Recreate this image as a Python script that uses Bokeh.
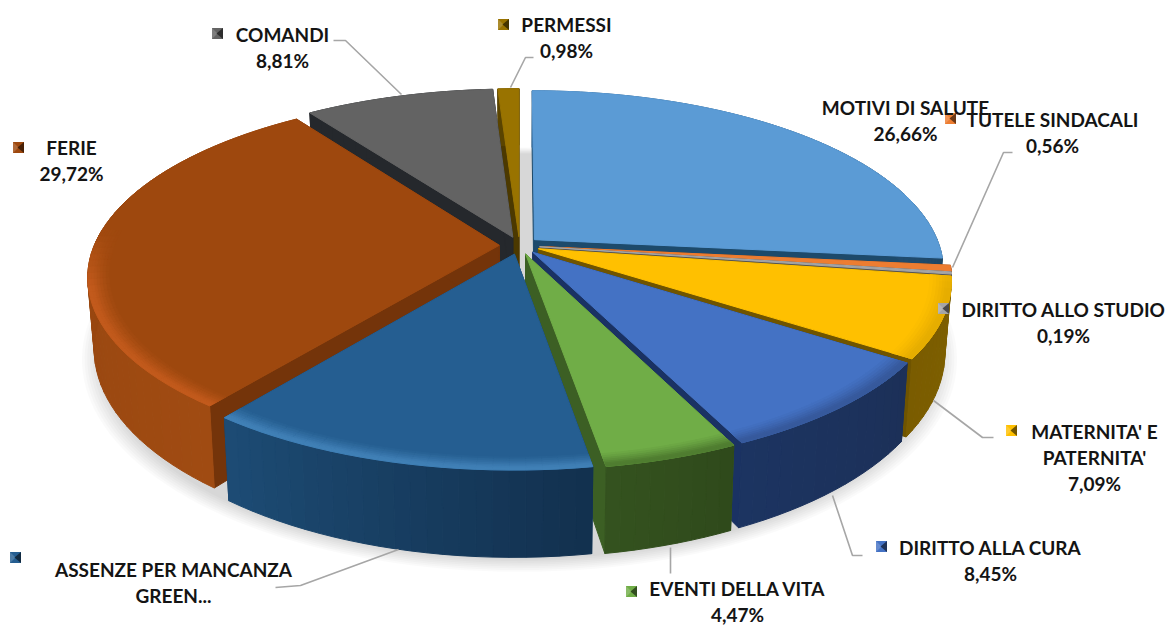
import math
import numpy as np
from bokeh.plotting import figure
from bokeh.models import Range1d, ColumnDataSource
from bokeh.core.properties import value
from bokeh.embed import file_html
from bokeh.resources import INLINE

categories = ["MOTIVI DI SALUTE", "TUTELE SINDACALI", "DIRITTO ALLO STUDIO", "MATERNITA' E PATERNITA'",
              "DIRITTO ALLA CURA", "EVENTI DELLA VITA", "ASSENZE PER MANCANZA GREEN...", "FERIE", "COMANDI", "PERMESSI"]
shares = [26.66, 0.56, 0.19, 7.09, 8.45, 4.47, 13.07, 29.72, 8.81, 0.98]
top_colors = ["#5b9bd5", "#ed7d31", "#a5a5a5", "#ffc000", "#4472c4", "#70ad47", "#255e91", "#9e480e", "#636363", "#997300"]
rim_colors = ["#5b9bd5", "#ed7d31", "#a5a5a5", "#e6ad00", "#36599c", "#4f7d30", "#4080b6", "#c25a1c", "#636363", "#997300"]
wall_from = ["#2a5f8e", "#8f4a1a", "#636363", "#7f6000", "#1c3058", "#2f4a1b", "#12304e", "#a04b12", "#25282c", "#5a4400"]
wall_to = ["#1f4766", "#8f4a1a", "#555555", "#7a5c00", "#1c3461", "#34521f", "#1d4c75", "#8f420d", "#25282c", "#5a4400"]
side_colors = ["#1d4a6b", "#8f4a1a", "#555555", "#6f5400", "#1a3263", "#3c5f24", "#173f63", "#74340a", "#25282c", "#4c3900"]
draw_order = [9, 8, 7, 0, 1, 2, 3, 4, 5, 6]

label_lines = [["MOTIVI DI SALUTE", "26,66%"], ["TUTELE SINDACALI", "0,56%"], ["DIRITTO ALLO STUDIO", "0,19%"],
               ["MATERNITA' E", "PATERNITA'", "7,09%"], ["DIRITTO ALLA CURA", "8,45%"], ["EVENTI DELLA VITA", "4,47%"],
               ["ASSENZE PER MANCANZA", "GREEN..."], ["FERIE", "29,72%"], ["COMANDI", "8,81%"], ["PERMESSI", "0,98%"]]

# layout of the labels, legend keys and leader lines (page pixels)
label_centres = [(905, 107), (1052, 119), (1063, 309), (1094, 431), (990, 547), (737, 588), (173, 569), (71, 147), (282, 34), (566, 24)]
line_step = 26.0
key_centres = [None, (950, 118), (943, 308), (1011, 430), (881, 546), (631, 591), (15, 557), (18, 147), (217, 33), (503, 24)]
leader_x = [[], [1012, 1003, 952], [], [993, 982, 933], [862, 852, 832], [670, 670], [275, 300, 398], [], [333, 345, 401], [533, 525, 510]]
leader_y = [[], [152, 152, 267], [], [437, 437, 400], [555, 555, 495], [573, 547], [587, 585, 549], [], [40, 40, 94], [57, 57, 87]]

# projection of the pie
cx, cy, a, b, k, D, explode = 519.0, 245.0, 405.0, 176.0, 0.17, 69.0, 0.05


def project(X, Y, z=0.0):
    w = 1 + k * Y
    sx = a * X / w
    sy = cy - b * Y / w + z * D / w ** 1.2
    return cx + sx * (1 - 0.015 * z), sy


def mix(c1, c2, t):
    p = [int(c1[i:i + 2], 16) for i in (1, 3, 5)]
    q = [int(c2[i:i + 2], 16) for i in (1, 3, 5)]
    return "#%02x%02x%02x" % tuple(int(round(u + (v - u) * t)) for u, v in zip(p, q))


xs, ys, cols = [], [], []


def add(poly, col):
    xs.append([float(q[0]) for q in poly])
    ys.append([float(q[1]) for q in poly])
    cols.append(col)


total = sum(shares)
edges = np.concatenate([[0], np.cumsum(shares)]) / total * 2 * math.pi

for i in draw_order:
    t0, t1 = edges[i], edges[i + 1]
    mid = (t0 + t1) / 2
    ox, oy = explode * math.sin(mid), explode * math.cos(mid)
    n = max(2, int(math.ceil((t1 - t0) / math.radians(2))))
    th = np.linspace(t0, t1, n + 1)
    pt = lambda r, t, z=0.0: project(ox + r * math.sin(t), oy + r * math.cos(t), z)
    apex, apex_d = project(ox, oy, 0), project(ox, oy, 1)
    # radial walls
    add([apex, pt(1, t0), pt(1, t0, 1), apex_d], side_colors[i])
    add([apex, pt(1, t1), pt(1, t1, 1), apex_d], side_colors[i])
    # outer wall
    for j in range(n):
        col = mix(wall_from[i], wall_to[i], (j + .5) / n)
        add([pt(1, th[j]), pt(1, th[j + 1]), pt(1, th[j + 1], 1), pt(1, th[j], 1)], col)
    # top face
    add([apex] + [pt(1, t) for t in th], top_colors[i])
    # soft bevel along the front rim
    radii = [.950, .958, .966, .973, .980, .986, .992, 1.0]
    strength = [.12, .28, .45, .62, .8, .95, 1.0]
    for j in range(n):
        tm = (th[j] + th[j + 1]) / 2
        fac = min(1.0, max(0.0, (-math.cos(tm) + 0.1) * 3))
        if fac <= 0 or rim_colors[i] == top_colors[i]:
            continue
        for q in range(len(strength)):
            add([pt(radii[q], th[j]), pt(radii[q], th[j + 1]), pt(radii[q + 1], th[j + 1]), pt(radii[q + 1], th[j])],
                mix(top_colors[i], rim_colors[i], strength[q] * fac))

p = figure(width=1168, height=626, x_range=Range1d(0, 1168), y_range=Range1d(626, 0),
           output_backend="svg", toolbar_location=None, min_border=0)
p.axis.visible = False
p.grid.visible = False
p.outline_line_color = None
p.background_fill_color = "white"

# drop shadow under the pie
tt = np.linspace(0, 2 * math.pi, 181)
for s in range(8):
    r = (1 + explode) * (0.985 + s * 0.006)
    pts = [project(r * math.sin(t), r * math.cos(t), 1) for t in tt]
    p.patch([q[0] for q in pts], [q[1] + 6 for q in pts], fill_color="#000000", fill_alpha=0.018, line_color=None)

p.patches("xs", "ys", source=ColumnDataSource(dict(xs=xs, ys=ys, c=cols)), fill_color="c", line_color="c", line_width=1.0)

# leader lines
for lx, ly in zip(leader_x, leader_y):
    if lx:
        p.line(lx, ly, line_color="#a6a6a6", line_width=1.6)

# legend keys
for i, c in enumerate(key_centres):
    if c is None:
        continue
    x0, y0, h = c[0], c[1], 5.5
    col = top_colors[i]
    p.patch([x0 - h, x0 + h, x0 + h, x0 - h], [y0 - h, y0 - h, y0 + h, y0 + h], fill_color=col, line_color=None)
    p.patch([x0 - h, x0, x0 - h], [y0 - h, y0, y0 + h], fill_color=mix(col, "#ffffff", .18), line_color=None)
    p.patch([x0 + h, x0 - 1, x0 + h], [y0 - h, y0, y0 + h], fill_color=mix(col, "#000000", .55), line_color=None)

# labels
tx, ty, tt_ = [], [], []
for lines, c in zip(label_lines, label_centres):
    for n, s in enumerate(lines):
        tx.append(c[0])
        ty.append(c[1] + n * line_step)
        tt_.append(s)
p.text(tx, ty, text=tt_, text_font=value("Lato"), text_font_style="bold", text_font_size="19px",
       text_color="#141414", text_align="center", text_baseline="middle")

open("out.html", "w").write(file_html(p, INLINE))
